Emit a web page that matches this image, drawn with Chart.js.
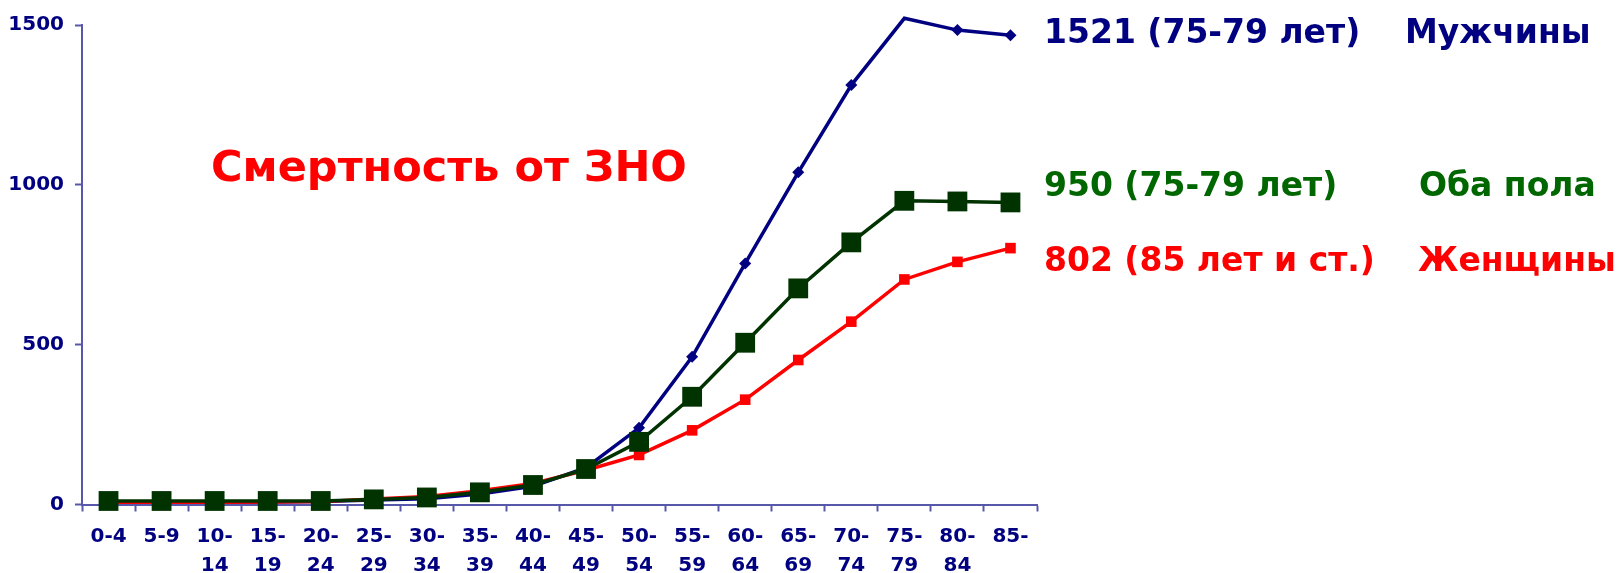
<!DOCTYPE html>
<html lang="ru">
<head>
<meta charset="utf-8">
<title>Смертность от ЗНО</title>
<script src="https://cdn.jsdelivr.net/npm/chart.js@4/dist/chart.umd.min.js"></script>
<style>
  html, body { margin: 0; padding: 0; background: #ffffff; }
  #wrap { position: relative; width: 1623px; height: 573px; }
</style>
</head>
<body>
<div id="wrap"><canvas id="chart" width="1623" height="573"></canvas></div>
<script>
// Age groups (two-line tick labels)
const ageGroups = [
  ['0-4'], ['5-9'], ['10-', '14'], ['15-', '19'], ['20-', '24'], ['25-', '29'],
  ['30-', '34'], ['35-', '39'], ['40-', '44'], ['45-', '49'], ['50-', '54'],
  ['55-', '59'], ['60-', '64'], ['65-', '69'], ['70-', '74'], ['75-', '79'],
  ['80-', '84'], ['85-']
];

// Cancer mortality per 100 000 by age group
const men   = [7, 7, 7, 8, 9, 14, 18, 33, 57, 115, 240, 462, 754, 1039, 1312, 1521, 1484, 1468];
const women = [7, 7, 7, 8, 9, 17, 25, 43, 66, 107, 155, 232, 328, 452, 572, 704, 759, 802];
const both  = [11, 11, 11, 11, 11, 16, 22, 38, 61, 111, 196, 337, 506, 676, 820, 950, 948, 945];

const yTicks = [0, 500, 1000, 1500];

const titleText = 'Смертность от ЗНО';
const noteValues = ['1521 (75-79 лет)', '950 (75-79 лет)', '802 (85 лет и ст.)'];
const noteGroups = ['Мужчины', 'Оба пола', 'Женщины'];

const FONT = "'DejaVu Sans', Verdana, sans-serif";
const NAVY = '#000080';
const DARK_GREEN = '#003300';
const TEXT_GREEN = '#006600';
const RED = '#ff0000';
const AXIS = '#5858aa';

const menPeak = men.indexOf(Math.max(...men));

// Title and right-hand notes
const notesPlugin = {
  id: 'notes',
  afterDraw(chart) {
    const ctx = chart.ctx;
    const area = chart.chartArea;
    ctx.save();
    ctx.textBaseline = 'alphabetic';
    ctx.textAlign = 'left';

    ctx.font = 'bold 43px ' + FONT;
    ctx.fillStyle = RED;
    ctx.fillText(titleText, 211, 181);

    const colors = [NAVY, TEXT_GREEN, RED];
    const baselines = [43, 196, 271];
    const groupX = [1405, 1419, 1418];
    ctx.font = 'bold 33px ' + FONT;
    for (let i = 0; i < noteValues.length; i++) {
      ctx.fillStyle = colors[i];
      ctx.fillText(noteValues[i], area.right + 7, baselines[i]);
      ctx.fillText(noteGroups[i], groupX[i], baselines[i]);
    }
    ctx.restore();
  }
};

new Chart(document.getElementById('chart'), {
  type: 'line',
  data: {
    labels: ageGroups,
    datasets: [
      {
        label: 'Оба пола',
        data: both,
        borderColor: DARK_GREEN,
        backgroundColor: DARK_GREEN,
        borderWidth: 3.5,
        pointStyle: 'rect',
        pointRadius: 14,
        pointHoverRadius: 14,
        pointBorderWidth: 0,
        pointBackgroundColor: DARK_GREEN,
        clip: false,
        tension: 0
      },
      {
        label: 'Женщины',
        data: women,
        borderColor: RED,
        backgroundColor: RED,
        borderWidth: 3.5,
        pointStyle: 'rect',
        pointRadius: 7.5,
        pointHoverRadius: 7.5,
        pointBorderWidth: 0,
        pointBackgroundColor: RED,
        clip: false,
        tension: 0
      },
      {
        label: 'Мужчины',
        data: men,
        borderColor: NAVY,
        backgroundColor: NAVY,
        borderWidth: 3.5,
        pointStyle: 'rectRot',
        pointRadius: (c) => (c.dataIndex === menPeak ? 0 : 6),
        pointHoverRadius: 6,
        pointBorderWidth: 0,
        pointBackgroundColor: NAVY,
        clip: false,
        tension: 0
      }
    ]
  },
  options: {
    responsive: false,
    animation: false,
    devicePixelRatio: 1,
    layout: {
      autoPadding: false,
      padding: { top: 25, right: 586, left: 0, bottom: 0 }
    },
    plugins: {
      legend: { display: false },
      tooltip: { enabled: false },
      title: { display: false }
    },
    scales: {
      x: {
        type: 'category',
        offset: true,
        grid: {
          offset: true,
          drawOnChartArea: false,
          drawTicks: true,
          tickLength: 7,
          tickWidth: 2,
          color: AXIS
        },
        border: { display: true, color: AXIS, width: 2 },
        ticks: {
          color: NAVY,
          font: { family: FONT, size: 20, weight: 'bold', lineHeight: 1.45 },
          padding: 11,
          maxRotation: 0,
          minRotation: 0,
          autoSkip: false
        },
        afterFit(scale) { scale.height = 68.5; }
      },
      y: {
        type: 'linear',
        min: 0,
        max: 1500,
        afterBuildTicks(scale) { scale.ticks = yTicks.map(v => ({ value: v })); },
        grid: {
          drawOnChartArea: false,
          drawTicks: true,
          tickLength: 7,
          tickWidth: 2,
          color: AXIS
        },
        border: { display: true, color: AXIS, width: 2 },
        ticks: {
          color: NAVY,
          font: { family: FONT, size: 20, weight: 'bold' },
          padding: 11,
          callback: (v) => String(v)
        },
        afterFit(scale) { scale.width = 82; }
      }
    }
  },
  plugins: [notesPlugin]
});
</script>
</body>
</html>
